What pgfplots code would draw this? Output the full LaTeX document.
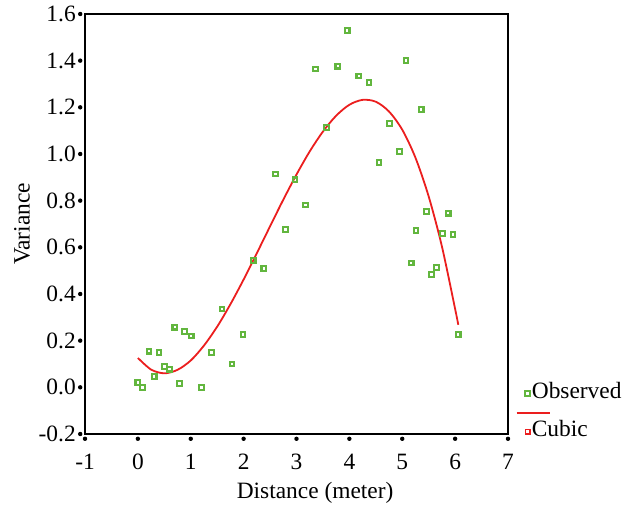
\documentclass[border=0pt]{standalone}
\usepackage{fontspec}
\setmainfont{Liberation Serif}
\usepackage{pgfplots}
\pgfplotsset{compat=1.18}
\definecolor{obsgreen}{RGB}{98,182,62}
\definecolor{cubred}{RGB}{235,30,30}
\begin{document}
\begin{tikzpicture}[font=\fontsize{11.7}{14}\selectfont]
\begin{axis}[
  scale only axis, width=211.5pt, height=210pt,
  xmin=-1, xmax=7, ymin=-0.2, ymax=1.6,
  xtick={-1,0,1,2,3,4,5,6,7},
  ytick={-0.2,0,0.2,0.4,0.6,0.8,1.0,1.2,1.4,1.6},
  xtick pos=bottom, ytick pos=left,
  tick align=outside, major tick length=2.4pt,
  tick style={black, line width=2.2pt, line cap=round, dash pattern=on 0pt off 10pt},
  axis line style={black, line width=1.1pt},
  /pgf/number format/assume math mode=true,
  y tick label style={/pgf/number format/fixed, /pgf/number format/fixed zerofill, /pgf/number format/precision=1, xshift=1.3pt},
  x tick label style={yshift=-4pt},
  xlabel={Distance (meter)}, ylabel={Variance},
  xlabel style={at={(axis description cs:0.544,-0.140)}, anchor=center},
  ylabel style={at={(axis description cs:-0.149,0.5)}, anchor=center},
  legend style={draw=none, fill=none, at={(axis description cs:1.038,0.051)}, anchor=west,
    row sep=0pt, inner sep=0pt, nodes={inner sep=0.5pt, text height=6.5pt, text depth=2pt}},
  legend cell align=left,
]
\addplot[only marks, mark=square, mark size=1.15pt, color=obsgreen, mark options={line width=1.1pt},
  legend image code/.code={\draw[obsgreen,line width=1pt] (-1.1pt,-1.1pt) rectangle (1.1pt,1.1pt);}]
table {
x y
0.00 0.02
0.09 0.00
0.21 0.155
0.31 0.046
0.40 0.149
0.50 0.09
0.60 0.078
0.70 0.258
0.79 0.016
0.88 0.24
1.01 0.22
1.20 0.00
1.39 0.149
1.59 0.336
1.78 0.10
1.99 0.227
2.18 0.543
2.38 0.509
2.60 0.914
2.79 0.677
2.97 0.889
3.17 0.781
3.36 1.364
3.57 1.113
3.78 1.376
3.96 1.529
4.18 1.334
4.37 1.306
4.56 0.963
4.76 1.13
4.95 1.01
5.07 1.40
5.17 0.533
5.26 0.672
5.36 1.19
5.46 0.753
5.55 0.484
5.65 0.514
5.76 0.659
5.87 0.746
5.96 0.655
6.06 0.227
};
\addlegendentry{Observed}
\addlegendimage{legend image code/.code={\path[draw=none,fill=none] (-1.6pt,-1.6pt) rectangle (1.6pt,1.6pt); \draw[cubred, line width=1pt, overlay] (-5.5pt,0pt) -- (11pt,0pt);}}
\addlegendentry{\mbox{}}
\addplot[cubred, line width=0.9pt, smooth, no marks,
  legend image code/.code={\draw[cubred,line width=0.8pt] (-1.1pt,-1.1pt) rectangle (1.1pt,1.1pt);}]
table {
x y
0.00 0.126
0.25 0.076
0.50 0.060
0.75 0.075
1.00 0.115
1.25 0.179
1.50 0.260
1.75 0.356
2.00 0.462
2.25 0.575
2.50 0.690
2.75 0.804
3.00 0.912
3.25 1.011
3.50 1.096
3.75 1.164
4.00 1.211
4.25 1.232
4.50 1.224
4.75 1.182
5.00 1.104
5.25 0.984
5.50 0.818
5.75 0.604
6.00 0.336
6.06 0.268
};
\addlegendentry{Cubic}
\end{axis}
\pgfresetboundingbox
\path[use as bounding box] ([shift={(-42.5pt,-36.5pt)}]current axis.south west) rectangle ([shift={(274.5pt,217pt)}]current axis.south west);
\end{tikzpicture}
\end{document}
